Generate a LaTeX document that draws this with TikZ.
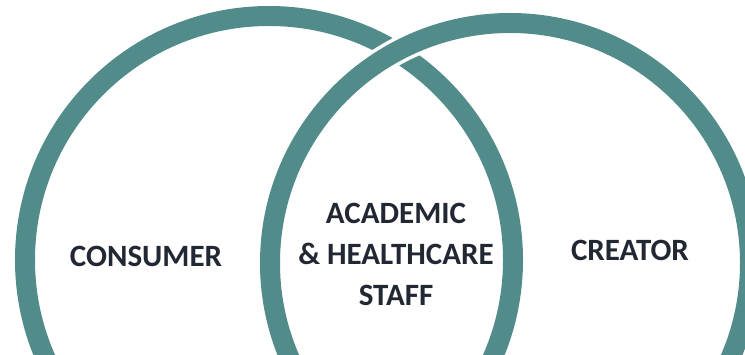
\documentclass[tikz,border=0pt]{standalone}
\usepackage{fontspec}
\setmainfont{Carlito}
\definecolor{ringteal}{HTML}{518C8B}
\definecolor{labelink}{HTML}{222833}
\tikzset{
  ring/.style={draw=ringteal, line width=20pt},
  ringgap/.style={draw=white, line width=27pt},
  lbl/.style={text=labelink, font=\bfseries\fontsize{31}{41}\selectfont, align=center, inner sep=0pt}
}
\begin{document}
\begin{tikzpicture}[x=1pt,y=-1pt]
\useasboundingbox (0,0) rectangle (745,355);
\clip (0,0) rectangle (745,355);
\fill[white] (0,0) rectangle (745,355);
\coordinate (cl) at (269,260);
\coordinate (cr) at (510,263);
\draw[ring] (cl) circle[radius=244];
\draw[ringgap] (cr) circle[radius=240];
\draw[ring] (cr) circle[radius=240];
\node[lbl] (consumer) at (146,256) {CONSUMER};
\node[lbl] (creator) at (630,250) {CREATOR};
\node[lbl] (staff) at (396,254) {ACADEMIC\\\& HEALTHCARE\\STAFF};
\end{tikzpicture}
\end{document}
